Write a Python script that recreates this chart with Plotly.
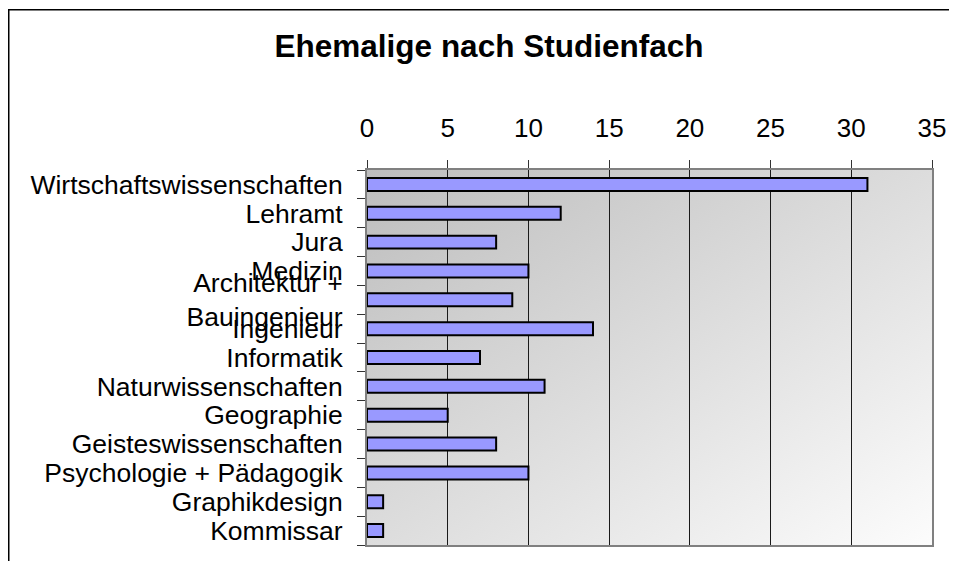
import base64
import plotly.graph_objects as go

categories = [
    "Wirtschaftswissenschaften", "Lehramt", "Jura", "Medizin",
    "Architektur +<br>Bauingenieur", "Ingenieur", "Informatik",
    "Naturwissenschaften", "Geographie", "Geisteswissenschaften",
    "Psychologie + Pädagogik", "Graphikdesign", "Kommissar",
]
values = [31, 12, 8, 10, 9, 14, 7, 11, 5, 8, 10, 1, 1]
x_ticks = [0, 5, 10, 15, 20, 25, 30, 35]
title_text = "Ehemalige nach Studienfach"

# page has an 8px body margin; figure coordinates = page - 8
OFF = 8
W, H = 957 - OFF, 561 - OFF
L, R, T, B = 367 - OFF, 932 - OFF, 170 - OFF, 545 - OFF
pw, ph = R - L, B - T

svg = (
    '<svg xmlns="http://www.w3.org/2000/svg" width="100" height="100" preserveAspectRatio="none">'
    '<defs><linearGradient id="g" x1="0" y1="0" x2="1" y2="1">'
    '<stop offset="0" stop-color="#bdbdbd"/>'
    '<stop offset="1" stop-color="#fcfcfc"/>'
    '</linearGradient></defs>'
    '<rect width="100" height="100" fill="url(#g)"/></svg>'
)
src = "data:image/svg+xml;base64," + base64.b64encode(svg.encode()).decode()

fig = go.Figure(
    go.Bar(
        x=values,
        y=categories,
        orientation="h",
        width=0.45,
        marker=dict(color="#9999ff", line=dict(color="black", width=2)),
        hoverinfo="x+y",
    )
)

font = "Liberation Sans, Arial, sans-serif"

fig.update_layout(
    width=W,
    height=H,
    margin=dict(l=L, r=W - R, t=T, b=H - B, autoexpand=False),
    paper_bgcolor="white",
    plot_bgcolor="rgba(0,0,0,0)",
    showlegend=False,
    font=dict(family=font, color="black"),
    title=dict(
        text="<b>" + title_text + "</b>",
        x=(489 - OFF) / W,
        xanchor="center",
        xref="container",
        y=1 - (46 - OFF) / H,
        yanchor="middle",
        yref="container",
        font=dict(size=31.5, family=font, color="black"),
    ),
    xaxis=dict(
        side="top",
        range=[0, 35],
        tickmode="array",
        tickvals=x_ticks,
        ticktext=[str(v) for v in x_ticks],
        ticks="outside",
        ticklen=8,
        tickcolor="#333333",
        showgrid=True,
        gridcolor="#1a1a1a",
        gridwidth=1,
        showline=True,
        linecolor="#808080",
        linewidth=2,
        mirror=True,
        zeroline=False,
        tickfont=dict(size=26, family=font, color="black"),
        ticklabelstandoff=13,
        fixedrange=True,
    ),
    yaxis=dict(
        type="category",
        autorange="reversed",
        tickmode="array",
        tickvals=categories,
        ticktext=categories,
        ticks="outside",
        tickson="boundaries",
        ticklen=8,
        tickcolor="#333333",
        showgrid=False,
        showline=True,
        linecolor="#808080",
        linewidth=2,
        mirror=True,
        tickfont=dict(size=26.5, family=font, color="black"),
        ticklabelstandoff=17,
        fixedrange=True,
    ),
    images=[
        dict(
            source=src,
            xref="paper",
            yref="paper",
            x=0,
            y=1,
            sizex=1,
            sizey=1,
            sizing="stretch",
            xanchor="left",
            yanchor="top",
            layer="below",
        )
    ],
    shapes=[
        dict(
            type="rect",
            xref="paper",
            yref="paper",
            x0=(0.75 - L) / pw,
            x1=(W + 40 - L) / pw,
            y0=(B - (H + 40)) / ph,
            y1=(B - 1.75) / ph,
            line=dict(color="black", width=1.5),
            fillcolor="rgba(0,0,0,0)",
            layer="above",
        )
    ],
)

fig.write_html("out.html")
